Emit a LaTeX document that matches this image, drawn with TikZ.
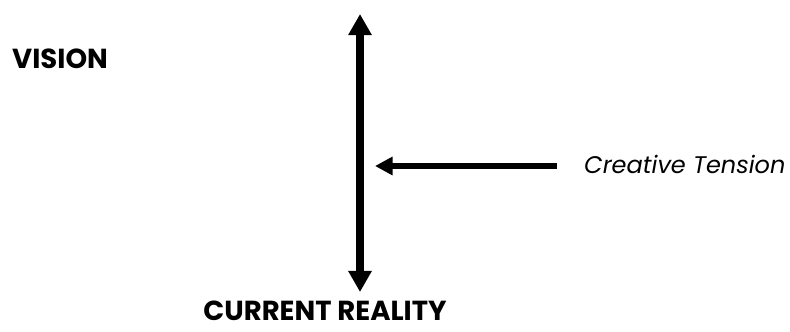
\documentclass[tikz,border=0pt]{standalone}
\usepackage{fontspec}
\setmainfont{Poppins}
\usetikzlibrary{arrows.meta, positioning}
\tikzset{
  label/.style={font=\bfseries\fontsize{23.5}{27}\selectfont, inner sep=0pt,
    text depth=0pt},
  note/.style={font=\itshape\fontsize{20.5}{24}\selectfont, inner sep=0pt,
    text depth=0pt}
}

\begin{document}
\begin{tikzpicture}[x=0.03cm, y=-0.03cm]
  \useasboundingbox (0,0) rectangle (790,331);

  %--- end points of the tension axis ---
  \coordinate (top) at (360,14);
  \coordinate (bottom) at (360,292);
  \draw[line width=6pt, {Triangle[length=18pt, width=19pt]}-{Triangle[length=18pt, width=19pt]}]
    (top) -- (bottom);

  %--- labels ---
  \node[label, anchor=base west] (vision) at (12,68) {VISION};
  \node[label, anchor=base] (reality) at (325,320) {CURRENT REALITY};

  %--- creative tension ---
  \node[note, anchor=base west] (tension) at (584,173) {Creative Tension};
  \coordinate (tail) at (557,166);
  \coordinate (head) at (375,166);
  \draw[line width=5.5pt, -{Triangle[length=15pt, width=15pt]}] (tail) -- (head);
\end{tikzpicture}
\end{document}
